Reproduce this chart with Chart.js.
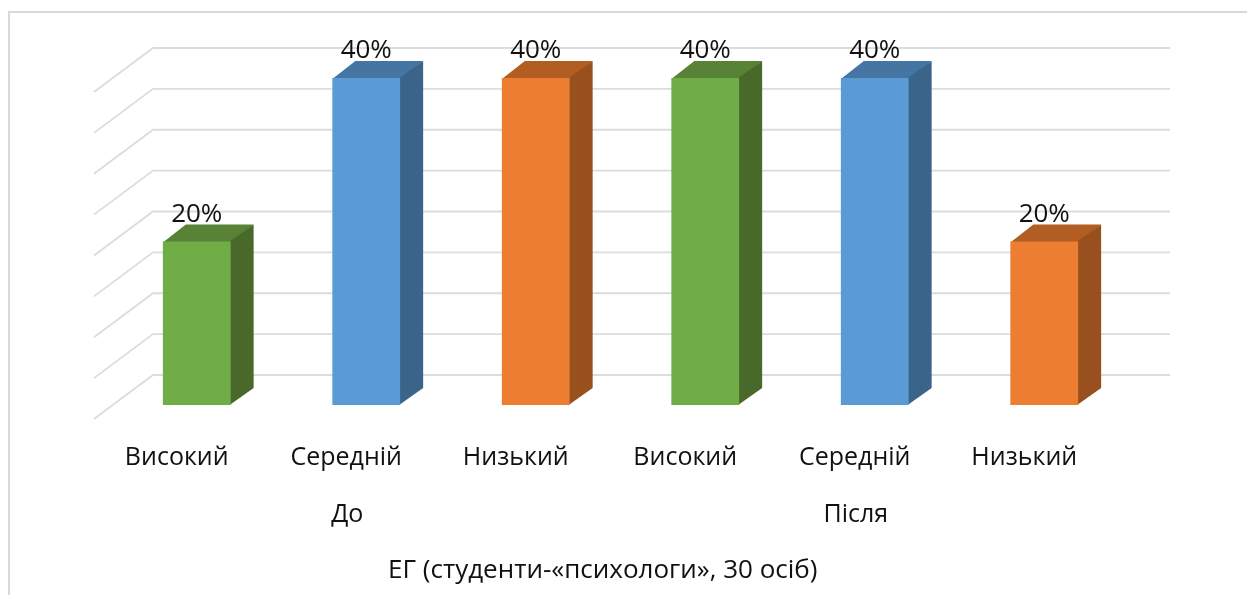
<!DOCTYPE html>
<html>
<head>
<meta charset="utf-8">
<script src="https://cdn.jsdelivr.net/npm/chart.js@4"></script>
<style>
    html, body { margin: 0; padding: 0; background: #fff; overflow: hidden; }
    #frame { position: absolute; left: 8px; top: 11px; right: -5px; bottom: -5px; border: 2px solid #d9d9d9; }
    #wrap { position: absolute; left: 0; top: 0; width: 1247px; height: 595px; }
</style>
</head>
<body>
<div id="frame"></div>
<div id="wrap"><canvas id="chart"></canvas></div>
<script>
var categories = ['Високий', 'Середній', 'Низький', 'Високий', 'Середній', 'Низький'];
var groupLabels = ['', 'До', '', '', 'Після', ''];
var axisLabels = ['', '', 'ЕГ (студенти-«психологи», 30 осіб)', '', '', ''];
var values = [20, 40, 40, 40, 40, 20];

var frontColors = ['#70ad47', '#5b9bd5', '#ed7d31', '#70ad47', '#5b9bd5', '#ed7d31'];
var topColors = ['#588235', '#4575a2', '#b25d22', '#588235', '#4575a2', '#b25d22'];
var sideColors = ['#48692a', '#3a6488', '#97501e', '#48692a', '#3a6488', '#97501e'];

var textFont = { family: '"Open Sans"', size: 25 };
var bigFont = { family: '"Open Sans"', size: 26 };

// fake 3d: back wall, floor and bar depth, Chart.js has no 3d bars
var box3d = {
    id: 'box3d',
    beforeDatasetsDraw: function (chart) {
        var ctx = chart.ctx;
        var area = chart.chartArea;
        var yScale = chart.scales.y;

        ctx.save();
        ctx.strokeStyle = '#dcdcdc';
        ctx.lineWidth = 1.8;
        yScale.ticks.forEach(function (t) {
            var y = yScale.getPixelForValue(t.value);
            ctx.beginPath();
            ctx.moveTo(area.left - 18, y + 14);
            ctx.lineTo(area.left + 41, y - 30);
            ctx.lineTo(area.right + 41, y - 30);
            ctx.stroke();
        });

        chart.getDatasetMeta(0).data.forEach(function (bar, i) {
            var r = bar.x + bar.width / 2;
            var l = bar.x - bar.width / 2;
            // top
            ctx.fillStyle = topColors[i];
            ctx.beginPath();
            ctx.moveTo(l, bar.y + 1);
            ctx.lineTo(l + 23, bar.y - 17);
            ctx.lineTo(r + 23, bar.y - 17);
            ctx.lineTo(r, bar.y + 1);
            ctx.closePath();
            ctx.fill();
            // side, starts a bit under the front so no white seam shows
            ctx.fillStyle = sideColors[i];
            ctx.beginPath();
            ctx.moveTo(r - 1, bar.y);
            ctx.lineTo(r + 23, bar.y - 17);
            ctx.lineTo(r + 23, bar.base - 17);
            ctx.lineTo(r - 1, bar.base);
            ctx.closePath();
            ctx.fill();
        });
        ctx.restore();
    },
    afterDatasetsDraw: function (chart) {
        var ctx = chart.ctx;
        ctx.save();
        ctx.fillStyle = '#111';
        ctx.font = bigFont.size + 'px ' + bigFont.family;
        ctx.textAlign = 'center';
        ctx.textBaseline = 'middle';
        chart.getDatasetMeta(0).data.forEach(function (bar, i) {
            ctx.fillText(values[i] + '%', bar.x, bar.y - 27);
        });
        ctx.restore();
    }
};

function labelAxis(labels, height, padding, labelOffset, font) {
    return {
        type: 'category',
        position: 'bottom',
        labels: labels,
        offset: true,
        grid: { display: false },
        border: { display: false },
        ticks: {
            autoSkip: false,
            maxRotation: 0,
            minRotation: 0,
            padding: padding,
            labelOffset: labelOffset,
            color: '#111',
            font: font
        },
        afterFit: function (scale) {
            scale.height = height;
        }
    };
}

new Chart(document.getElementById('chart'), {
    type: 'bar',
    plugins: [box3d],
    data: {
        labels: categories,
        datasets: [{
            data: values,
            backgroundColor: frontColors,
            barPercentage: 0.4,
            categoryPercentage: 1
        }]
    },
    options: {
        responsive: true,
        maintainAspectRatio: false,
        animation: false,
        layout: { padding: { left: 112, right: 118, top: 78, bottom: 0 } },
        plugins: {
            legend: { display: false },
            tooltip: { enabled: false }
        },
        scales: {
            y: { display: false, min: 0, max: 40, ticks: { stepSize: 5 } },
            x: labelAxis(categories, 80, 30, -20, textFont),
            x2: labelAxis(groupLabels, 57, 7, -19, textFont),
            x3: labelAxis(axisLabels, 53, 5, 67, bigFont)
        }
    }
});
</script>
</body>
</html>
